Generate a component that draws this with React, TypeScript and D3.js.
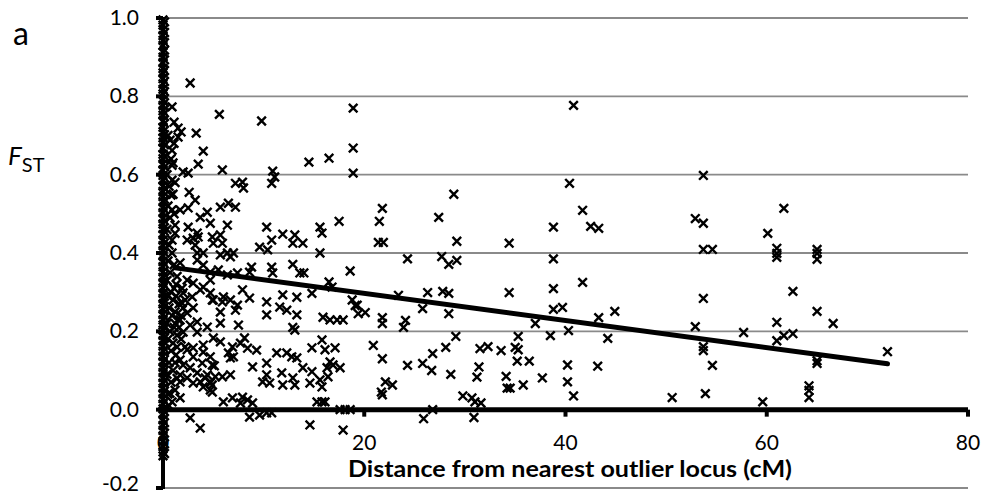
import React from "react";
import * as d3 from "d3";

// ---- data ----
const yTicks = [-0.2, 0.0, 0.2, 0.4, 0.6, 0.8, 1.0];
const xTicks = [0, 20, 40, 60, 80];
const xTitle = "Distance from nearest outlier locus (cM)";
const panelLabel = "a";

// loci sitting on the outlier locus itself (distance 0 cM)
const fstAtZero = [
  0.995, 0.982, 0.97, 0.955, 0.943, 0.93, 0.912, 0.9, 0.886, 0.871, 0.86, 0.845,
  0.832, 0.818, 0.806, 0.79, 0.777, 0.763, 0.752, 0.737, 0.721, 0.71, 0.694, 0.683,
  0.668, 0.652, 0.641, 0.627, 0.612, 0.598, 0.586, 0.571, 0.557, 0.544, 0.531, 0.516,
  0.503, 0.488, 0.474, 0.462, 0.447, 0.433, 0.419, 0.406, 0.393, 0.378, 0.365, 0.352,
  0.338, 0.324, 0.311, 0.297, 0.284, 0.27, 0.257, 0.243, 0.229, 0.216, 0.203, 0.19,
  0.176, 0.162, 0.149, 0.136, 0.122, 0.108, 0.095, 0.082, 0.068, 0.055, 0.041, 0.028,
  0.014, 0.002, -0.012, -0.026, -0.04, -0.053, -0.067, -0.081, -0.094, -0.108, -0.118,
];

// loci at a fraction of a cM from the outlier
const fstNearZero = [
  0.99, 0.963, 0.937, 0.918, 0.893, 0.866, 0.838, 0.812, 0.784, 0.758, 0.731, 0.702,
  0.676, 0.647, 0.62, 0.592, 0.565, 0.537, 0.51, 0.482, 0.455, 0.426, 0.4, 0.372,
  0.345, 0.317, 0.29, 0.263, 0.236, 0.209, 0.183, 0.155, 0.128, 0.101, 0.075, 0.048,
  0.021, -0.005, -0.033, -0.06, -0.087, -0.112,
];

// loci close to an outlier (< 20 cM): [distance cM, FST]
const nearLoci: [number, number][] = [
  [2.7, 0.834], [0.9, 0.773], [5.6, 0.754], [9.8, 0.737], [18.9, 0.77], [18.9, 0.668],
  [18.9, 0.604], [3.3, 0.706], [4.0, 0.66], [3.5, 0.627], [5.9, 0.612], [1.5, 0.719],
  [1.5, 0.696], [1.8, 0.709], [1.1, 0.734], [0.7, 0.688], [2.0, 0.607], [2.5, 0.604],
  [7.2, 0.578], [7.9, 0.581], [8.0, 0.566], [10.9, 0.609], [11.1, 0.594], [10.8, 0.578],
  [14.5, 0.632], [16.5, 0.642], [2.6, 0.555], [3.2, 0.535], [17.5, 0.481], [15.6, 0.466],
  [15.8, 0.451], [10.3, 0.466], [11.9, 0.448], [13.1, 0.446], [12.9, 0.425], [13.9, 0.425],
  [10.8, 0.433], [9.6, 0.415], [10.4, 0.408], [15.6, 0.4], [5.7, 0.517], [6.5, 0.527],
  [7.2, 0.517], [6.4, 0.471], [4.7, 0.476], [3.7, 0.491], [4.4, 0.504], [2.5, 0.466],
  [3.4, 0.451], [1.7, 0.51], [2.5, 0.515], [4.9, 0.441], [5.0, 0.425], [5.7, 0.446],
  [5.9, 0.425], [2.4, 0.433], [3.0, 0.438], [3.2, 0.42], [3.5, 0.441], [6.4, 0.4],
  [7.0, 0.4], [3.4, 0.4], [4.0, 0.4], [0.9, 0.662], [0.9, 0.624], [0.9, 0.586],
  [0.8, 0.548], [0.9, 0.51], [1.2, 0.471], [0.9, 0.433], [1.1, 0.68],
  [12.9, 0.371], [14.0, 0.349], [18.6, 0.354], [16.5, 0.326], [16.8, 0.313], [8.8, 0.364],
  [8.6, 0.351], [10.8, 0.364], [10.9, 0.349], [7.4, 0.349], [7.9, 0.306], [8.6, 0.285],
  [10.3, 0.275], [10.3, 0.242], [11.9, 0.293], [11.6, 0.262], [12.3, 0.254], [13.3, 0.287],
  [13.3, 0.242], [14.8, 0.297], [15.9, 0.236], [16.6, 0.229], [17.3, 0.229], [17.9, 0.229],
  [18.8, 0.28], [19.3, 0.267], [12.9, 0.21], [13.1, 0.203], [5.7, 0.249], [5.7, 0.221],
  [7.5, 0.216], [7.4, 0.267], [7.2, 0.254], [4.7, 0.298], [4.9, 0.28], [6.0, 0.288],
  [5.9, 0.275], [6.7, 0.28], [8.1, 0.183], [7.7, 0.17], [6.9, 0.16], [6.5, 0.145],
  [7.0, 0.135], [6.7, 0.132], [8.4, 0.157], [9.3, 0.152], [5.0, 0.183], [5.7, 0.173],
  [4.0, 0.165], [4.9, 0.114], [5.1, 0.112], [5.9, 0.084], [6.7, 0.089], [8.9, 0.109],
  [10.3, 0.119], [10.3, 0.089], [9.9, 0.071], [10.6, 0.068], [11.3, 0.145], [12.3, 0.145],
  [12.8, 0.135], [13.3, 0.132], [11.8, 0.094], [11.9, 0.063], [12.9, 0.081], [13.1, 0.063],
  [13.9, 0.107], [14.8, 0.097], [14.6, 0.068], [15.6, 0.076], [15.8, 0.058], [14.8, 0.158],
  [15.8, 0.178], [16.1, 0.153], [17.1, 0.158], [16.6, 0.122], [16.9, 0.114], [17.6, 0.107],
  [16.3, 0.107], [16.4, 0.084], [15.8, 0.02], [15.3, 0.02], [16.1, 0.02], [8.6, -0.019],
  [9.6, -0.014], [10.3, -0.008], [10.8, -0.008], [2.7, -0.021], [3.7, -0.047], [14.6, -0.039],
  [17.9, -0.052], [6.0, 0.02], [6.9, 0.03], [7.9, 0.032], [8.4, 0.025], [8.9, 0.017],
  [7.7, 0.017], [1.7, 0.03], [0.7, 0.042], [4.7, 0.05], [4.0, 0.058], [3.0, 0.068],
  [2.4, 0.081], [1.7, 0.071], [2.7, 0.107], [2.0, 0.114], [1.7, 0.089], [3.4, 0.094],
  [4.2, 0.081], [4.7, 0.071], [4.9, 0.045], [2.4, 0.331], [3.0, 0.323], [2.0, 0.298],
  [2.9, 0.288], [3.7, 0.306], [1.9, 0.272], [3.0, 0.26], [2.4, 0.247], [3.4, 0.224],
  [2.7, 0.216], [4.4, 0.211], [1.7, 0.229], [2.0, 0.198], [3.4, 0.198], [1.4, 0.16],
  [2.4, 0.153], [3.0, 0.135], [1.7, 0.127], [3.0, 0.158], [4.0, 0.147], [4.7, 0.135],
  [3.9, 0.119], [4.7, 0.068], [3.7, 0.071], [4.4, 0.089], [5.2, 0.084], [4.9, 0.063],
  [1.7, 0.375], [3.4, 0.382], [4.0, 0.369], [5.7, 0.395], [6.7, 0.39], [4.7, 0.351],
  [5.5, 0.357], [6.4, 0.344], [4.7, 0.331], [4.0, 0.313], [5.0, 0.28], [17.6, 0.0],
  [18.1, 0.0], [18.6, 0.0], [13.6, 0.349],
  [0.5, 0.7], [0.8, 0.64], [0.4, 0.6], [0.6, 0.57], [1.0, 0.55], [0.5, 0.52], [0.7, 0.49],
  [0.4, 0.46], [1.2, 0.45], [0.6, 0.42], [0.9, 0.4], [0.5, 0.38], [1.1, 0.37], [0.7, 0.35],
  [0.4, 0.33], [1.3, 0.32], [0.8, 0.3], [0.5, 0.29], [1.0, 0.28], [1.6, 0.27], [0.6, 0.26],
  [1.2, 0.25], [0.9, 0.24], [1.5, 0.23], [0.4, 0.22], [1.1, 0.21], [0.7, 0.2], [1.4, 0.19],
  [0.5, 0.18], [1.0, 0.17], [0.8, 0.15], [1.3, 0.14], [0.6, 0.12], [1.0, 0.1], [0.4, 0.09],
  [0.8, 0.07], [1.2, 0.05], [0.5, 0.04], [0.9, 0.02], [0.6, 0.01], [1.1, 0.31], [1.8, 0.24],
  [2.0, 0.26], [1.6, 0.21], [1.3, 0.29], [1.9, 0.31], [1.4, 0.34], [2.2, 0.28], [1.2, 0.22],
  [1.8, 0.18], [2.2, 0.16], [1.2, 0.12], [1.4, 0.08], [1.0, 0.63], [1.2, 0.58], [1.1, 0.5],
];

// loci far from an outlier (>= 19 cM): [distance cM, FST]
const farLoci: [number, number][] = [
  [24.3, 0.385], [27.7, 0.391], [28.4, 0.371], [29.2, 0.381], [38.8, 0.385],
  [26.3, 0.299], [27.8, 0.302], [28.4, 0.297], [34.4, 0.299], [38.8, 0.309], [41.7, 0.325],
  [23.4, 0.292], [25.8, 0.258], [28.4, 0.245], [38.8, 0.256], [39.7, 0.261], [37.0, 0.22],
  [43.3, 0.235], [44.9, 0.251], [40.3, 0.202], [38.5, 0.189], [44.2, 0.182],
  [19.1, 0.266], [19.4, 0.245], [20.1, 0.248], [21.8, 0.235], [21.8, 0.22], [24.1, 0.228],
  [23.9, 0.21], [20.9, 0.164], [21.8, 0.13], [24.3, 0.113], [25.8, 0.118], [26.8, 0.143],
  [26.7, 0.1], [28.1, 0.159], [29.1, 0.187], [28.6, 0.09], [31.5, 0.156], [32.3, 0.161],
  [33.6, 0.151], [35.0, 0.159], [35.3, 0.153], [35.3, 0.187], [31.4, 0.109], [31.2, 0.083],
  [34.1, 0.085], [35.2, 0.124], [36.4, 0.124], [22.1, 0.071], [22.8, 0.063], [21.7, 0.045],
  [21.8, 0.038], [34.2, 0.055], [34.5, 0.055], [35.8, 0.063], [37.7, 0.081], [40.2, 0.114],
  [40.2, 0.071], [40.8, 0.035], [43.2, 0.111], [29.8, 0.035], [30.7, 0.03], [31.0, 0.02],
  [31.6, 0.017], [25.9, -0.023], [30.9, -0.02], [26.8, 0.0],
  [40.8, 0.777], [40.4, 0.578], [28.9, 0.55], [41.7, 0.509], [42.5, 0.468], [43.3, 0.463],
  [38.8, 0.466], [21.8, 0.514], [21.5, 0.481], [21.4, 0.427], [21.9, 0.427], [27.4, 0.491],
  [29.2, 0.43], [34.4, 0.425],
  [61.7, 0.514], [52.9, 0.488], [53.7, 0.476], [60.1, 0.45], [53.7, 0.409], [54.6, 0.409],
  [61.0, 0.412], [61.0, 0.399], [61.0, 0.389], [65.0, 0.409], [65.0, 0.399], [65.0, 0.384],
  [53.7, 0.284], [62.6, 0.302], [65.0, 0.251], [66.6, 0.22], [52.9, 0.212], [57.7, 0.197],
  [61.0, 0.223], [61.0, 0.176], [61.7, 0.189], [62.6, 0.194], [53.7, 0.161], [53.7, 0.151],
  [54.6, 0.113], [65.0, 0.125], [65.0, 0.118], [72.0, 0.148], [64.2, 0.061], [64.2, 0.049],
  [64.2, 0.031], [50.6, 0.031], [53.9, 0.041], [59.6, 0.02], [53.7, 0.598],
];

// linear trend line endpoints
const trendX = [1.2, 72.0];
const trendY = [0.362, 0.117];

export default function App() {
  const W = 984;
  const H = 497;
  const x = d3.scaleLinear().domain([0, 80]).range([163, 968]);
  const y = d3.scaleLinear().domain([-0.2, 1.0]).range([488, 18]);

  const points: [number, number][] = [
    ...fstAtZero.map((v) => [0, v] as [number, number]),
    ...fstNearZero.map((v) => [0.15, v] as [number, number]),
    ...nearLoci,
    ...farLoci,
  ];

  const trendLine = d3
    .line<number>()
    .x((d) => x(trendX[d]))
    .y((d) => y(trendY[d]))([0, 1]);

  const m = 4.3;
  const font = "Lato, 'Open Sans', sans-serif";

  return (
    <svg
      width={W}
      height={H}
      style={{ position: "absolute", left: 0, top: 0, background: "#fff" }}
      fontFamily={font}
    >
      <rect width={W} height={H} fill="#fff" />
      {/* gridlines */}
      {yTicks
        .filter((t) => t !== 0)
        .map((t) => (
          <line
            key={"g" + t}
            x1={x(0)}
            x2={x(80)}
            y1={y(t)}
            y2={y(t)}
            stroke="#8a8a8a"
            strokeWidth={1.8}
          />
        ))}
      {/* y tick marks */}
      {yTicks.map((t) => (
        <line key={"yt" + t} x1={x(0) - 7} x2={x(0)} y1={y(t)} y2={y(t)} stroke="#000" strokeWidth={4} />
      ))}
      {/* x tick marks */}
      {xTicks.map((t) => (
        <line key={"xt" + t} x1={x(t)} x2={x(t)} y1={y(0)} y2={y(0) + 7} stroke="#000" strokeWidth={4} />
      ))}
      {/* axes */}
      <line x1={x(0)} x2={x(0)} y1={y(1.0) - 1} y2={y(-0.2) + 1} stroke="#000" strokeWidth={4} />
      <line x1={x(0)} x2={x(80)} y1={y(0)} y2={y(0)} stroke="#000" strokeWidth={5} />
      {/* tick labels */}
      {yTicks.map((t) => (
        <text
          key={"yl" + t}
          x={139}
          y={Math.min(y(t), 484)}
          dy="0.34em"
          textAnchor="end"
          fontSize={21}
          fill="#000"
        >
          {t.toFixed(1)}
        </text>
      ))}
      {xTicks.map((t) => (
        <text key={"xl" + t} x={x(t)} y={450} textAnchor="middle" fontSize={21} fill="#000">
          {t}
        </text>
      ))}
      {/* markers */}
      <g stroke="#000" strokeWidth={2.4} strokeLinecap="butt">
        {points.map(([dx, fy], i) => {
          const cx = x(dx);
          const cy = y(fy);
          return (
            <path
              key={"p" + i}
              d={`M${cx - m},${cy - m}L${cx + m},${cy + m}M${cx - m},${cy + m}L${cx + m},${cy - m}`}
              fill="none"
            />
          );
        })}
      </g>
      {/* trend line */}
      <path d={trendLine || ""} fill="none" stroke="#000" strokeWidth={5} strokeLinecap="round" />
      {/* titles */}
      <text
        x={570}
        y={477}
        textAnchor="middle"
        fontSize={22}
        fontWeight="bold"
        fill="#000"
        textLength={444}
        lengthAdjust="spacingAndGlyphs"
      >
        {xTitle}
      </text>
      <text x={13} y={45} fontSize={32} fill="#000">
        {panelLabel}
      </text>
      <text x={8} y={165} fontSize={26} fill="#000">
        <tspan fontStyle="italic">F</tspan>
        <tspan fontSize={20} dy={7}>
          ST
        </tspan>
      </text>
    </svg>
  );
}
